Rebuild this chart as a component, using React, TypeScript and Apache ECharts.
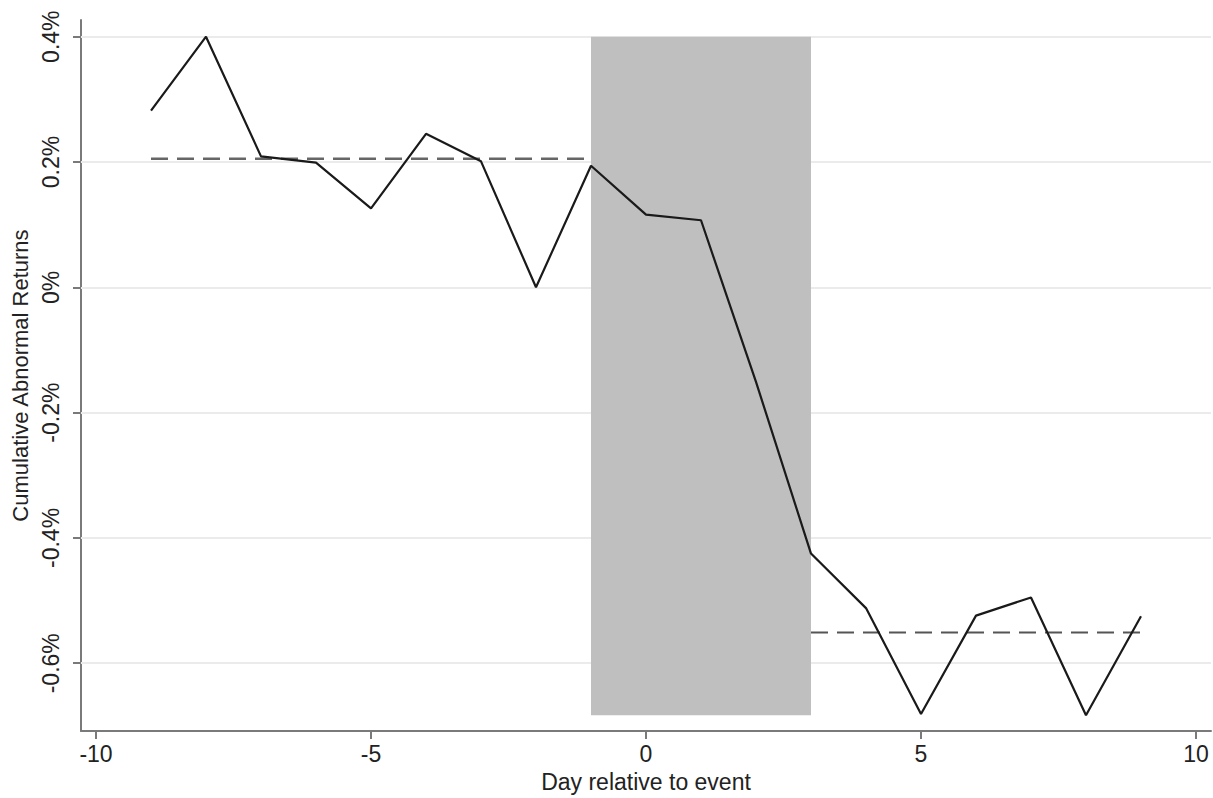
import React, { useEffect, useRef } from "react";
import * as echarts from "echarts";

// Day relative to event
const days = [-9, -8, -7, -6, -5, -4, -3, -2, -1, 0, 1, 2, 3, 4, 5, 6, 7, 8, 9];
// Cumulative abnormal returns (%)
const car = [0.282, 0.4, 0.209, 0.199, 0.126, 0.245, 0.201, 0.0, 0.194, 0.116, 0.107, -0.151, -0.425, -0.512, -0.681, -0.524, -0.495, -0.683, -0.525];

// Mean levels before and after the event window
const preWindow = [-9, -1];
const preMean = 0.205;
const postWindow = [3, 9];
const postMean = -0.551;

// Event window (shaded)
const eventWindow = [-1, 3];

// Tick values
const xTicks = [-10, -5, 0, 5, 10];
const yTicks = [-0.6, -0.4, -0.2, 0, 0.2, 0.4];

const FONT = "Liberation Sans, Arial, sans-serif";

export default function App() {
  const ref = useRef<HTMLDivElement>(null);

  useEffect(() => {
    if (!ref.current) return;
    const chart = echarts.init(ref.current, null, { renderer: "svg" });

    const yMin = Math.min(...car);
    const yMax = Math.max(...car);

    const fmtY = (v: number) => {
      const r = Math.round(v * 10) / 10;
      if (r === 0) return "0%";
      return r.toFixed(1) + "%";
    };

    const option: any = {
      animation: false,
      backgroundColor: "#ffffff",
      grid: { left: 81, right: 2, top: 20, bottom: 65, containLabel: false },
      xAxis: {
        type: "value",
        min: -10.273,
        max: 10.273,
        name: "Day relative to event",
        nameLocation: "middle",
        nameGap: 33,
        nameTextStyle: { fontFamily: FONT, fontSize: 23, color: "#222" },
        axisLine: { show: true, onZero: false, lineStyle: { color: "#7a7a7a", width: 2 } },
        axisTick: { show: true, length: 8, customValues: xTicks, lineStyle: { color: "#7a7a7a", width: 2 } },
        axisLabel: {
          customValues: xTicks,
          fontFamily: FONT,
          fontSize: 23,
          color: "#222",
          margin: 11,
          formatter: (v: number) => String(v),
        },
        splitLine: { show: false },
      },
      yAxis: {
        type: "value",
        min: -0.7083,
        max: 0.4266,
        name: "Cumulative Abnormal Returns",
        nameLocation: "middle",
        nameGap: 46,
        nameRotate: 90,
        nameTextStyle: { fontFamily: FONT, fontSize: 22, color: "#222" },
        axisLine: { show: true, onZero: false, lineStyle: { color: "#7a7a7a", width: 2 } },
        axisTick: { show: true, length: 8, customValues: yTicks, lineStyle: { color: "#7a7a7a", width: 2 } },
        axisLabel: {
          customValues: yTicks,
          rotate: 90,
          fontFamily: FONT,
          fontSize: 23,
          color: "#222",
          margin: 19,
          formatter: fmtY,
        },
        splitLine: { show: false },
      },
      series: [
        {
          name: "gridlines",
          type: "line",
          data: [],
          z: 1,
          silent: true,
          markLine: {
            z: 1,
            silent: true,
            symbol: ["none", "none"],
            label: { show: false },
            lineStyle: { color: "#ebebeb", width: 2, type: "solid" },
            data: yTicks.map((v) => ({ yAxis: v })),
          },
        },
        {
          name: "event window",
          type: "line",
          data: [],
          z: 2,
          silent: true,
          markArea: {
            z: 2,
            silent: true,
            itemStyle: { color: "#bfbfbf", opacity: 1 },
            data: [[{ coord: [eventWindow[0], yMax] }, { coord: [eventWindow[1], yMin] }]],
          },
        },
        {
          name: "pre mean",
          type: "line",
          z: 3,
          showSymbol: false,
          data: preWindow.map((d) => [d, preMean]),
          lineStyle: { color: "#666666", width: 2.5, type: [17, 9] },
        },
        {
          name: "post mean",
          type: "line",
          z: 3,
          showSymbol: false,
          data: postWindow.map((d) => [d, postMean]),
          lineStyle: { color: "#555555", width: 2, type: [17, 9] },
        },
        {
          name: "CAR",
          type: "line",
          z: 4,
          showSymbol: false,
          data: days.map((d, i) => [d, car[i]]),
          lineStyle: { color: "#1a1a1a", width: 2.2 },
        },
      ],
    };

    chart.setOption(option);
    return () => chart.dispose();
  }, []);

  return (
    <div
      ref={ref}
      style={{ position: "fixed", left: 0, top: 0, width: 1213, height: 798, background: "#fff" }}
    />
  );
}
